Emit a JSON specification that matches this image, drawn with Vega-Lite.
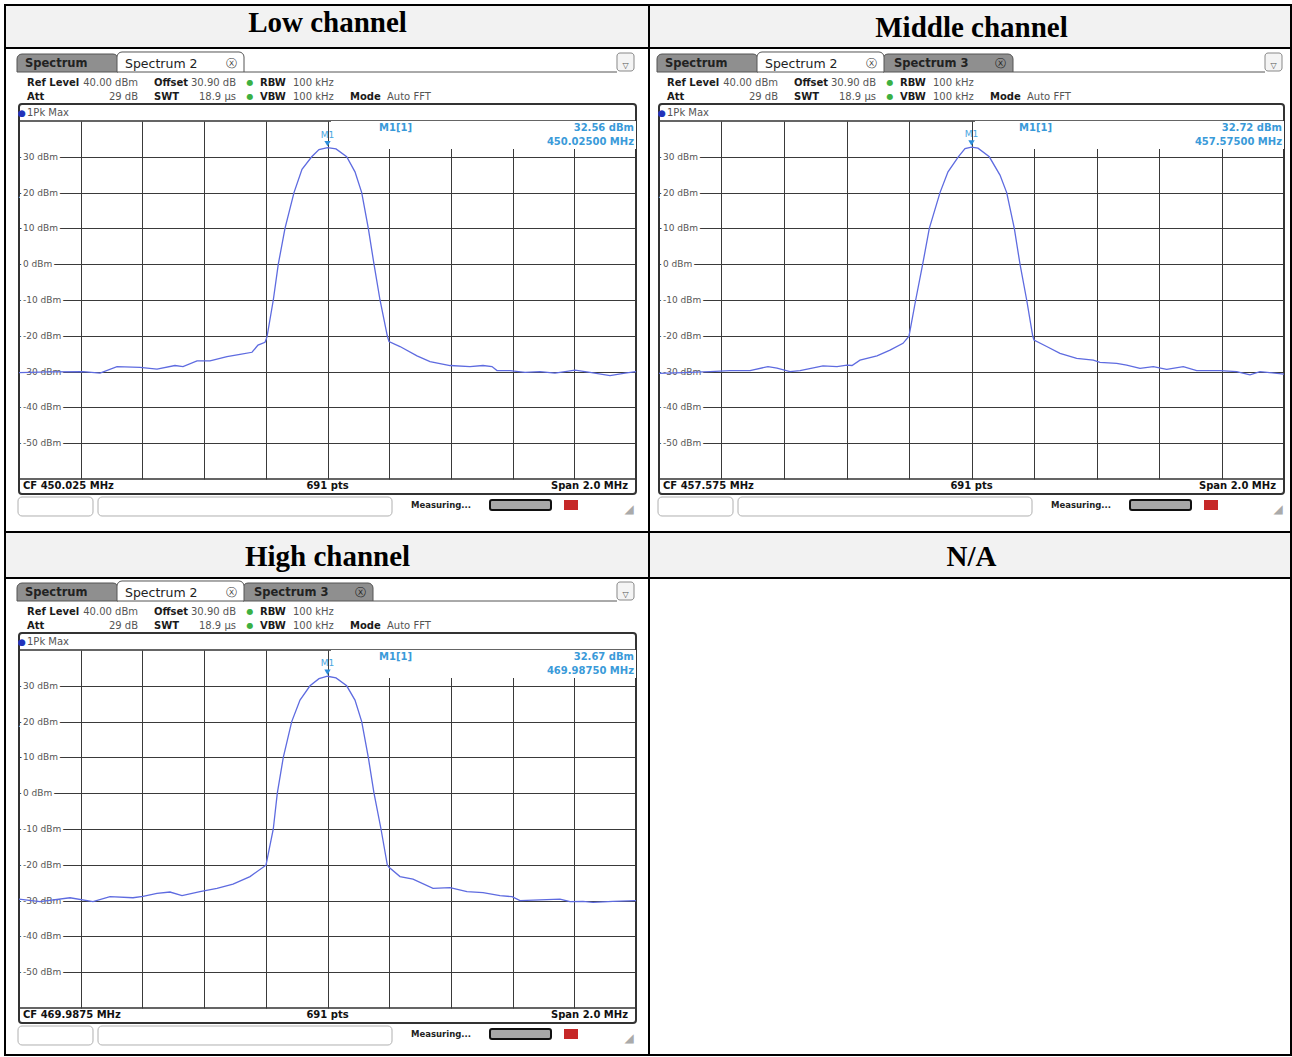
{
"$schema": "https://vega.github.io/schema/vega-lite/v6.json",
"background": "white",
"padding": {"left": 3, "top": 3, "right": 0, "bottom": 0},
"autosize": {"type": "pad"},
"columns": 2,
"spacing": {"row": 171, "column": 23},
"bounds": "flush",
"datasets": {
"one": [{}],
"yticks": [{"v":-50},{"v":-40},{"v":-30},{"v":-20},{"v":-10},{"v":0},{"v":10},{"v":20},{"v":30}],
"markers": [
{"channel": "Low", "freq": 450.025, "level": 32.56},
{"channel": "Middle", "freq": 457.575, "level": 32.72},
{"channel": "High", "freq": 469.9875, "level": 32.67}
],
"trace": [
{"channel":"Low","freq":449.025,"level":-30.3},{"channel":"Low","freq":449.1255,"level":-30.1},{"channel":"Low","freq":449.2325,"level":-30.0},{"channel":"Low","freq":449.2876,"level":-30.4},{"channel":"Low","freq":449.3427,"level":-28.6},{"channel":"Low","freq":449.4172,"level":-28.8},{"channel":"Low","freq":449.4723,"level":-29.3},{"channel":"Low","freq":449.5307,"level":-28.3},{"channel":"Low","freq":449.5566,"level":-28.6},{"channel":"Low","freq":449.602,"level":-27.0},{"channel":"Low","freq":449.6441,"level":-27.0},{"channel":"Low","freq":449.6992,"level":-25.8},{"channel":"Low","freq":449.7414,"level":-25.2},{"channel":"Low","freq":449.7803,"level":-24.6},{"channel":"Low","freq":449.7997,"level":-22.6},{"channel":"Low","freq":449.8224,"level":-21.8},{"channel":"Low","freq":449.8289,"level":-20.3},{"channel":"Low","freq":449.8493,"level":-10.0},{"channel":"Low","freq":449.8655,"level":0.0},{"channel":"Low","freq":449.8872,"level":10.0},{"channel":"Low","freq":449.9164,"level":20.0},{"channel":"Low","freq":449.9423,"level":26.5},{"channel":"Low","freq":449.9738,"level":30.0},{"channel":"Low","freq":449.9974,"level":32.0},{"channel":"Low","freq":450.025,"level":32.56},{"channel":"Low","freq":450.0526,"level":32.2},{"channel":"Low","freq":450.0872,"level":30.0},{"channel":"Low","freq":450.1141,"level":25.8},{"channel":"Low","freq":450.1359,"level":20.0},{"channel":"Low","freq":450.1573,"level":10.0},{"channel":"Low","freq":450.1757,"level":0.0},{"channel":"Low","freq":450.1952,"level":-10.0},{"channel":"Low","freq":450.2188,"level":-20.0},{"channel":"Low","freq":450.2244,"level":-21.6},{"channel":"Low","freq":450.26,"level":-23.0},{"channel":"Low","freq":450.3151,"level":-25.6},{"channel":"Low","freq":450.3573,"level":-27.2},{"channel":"Low","freq":450.4221,"level":-28.3},{"channel":"Low","freq":450.4869,"level":-28.6},{"channel":"Low","freq":450.5291,"level":-28.3},{"channel":"Low","freq":450.5582,"level":-28.6},{"channel":"Low","freq":450.5744,"level":-29.7},{"channel":"Low","freq":450.6166,"level":-29.7},{"channel":"Low","freq":450.6652,"level":-30.2},{"channel":"Low","freq":450.7138,"level":-30.0},{"channel":"Low","freq":450.7624,"level":-30.4},{"channel":"Low","freq":450.8273,"level":-29.6},{"channel":"Low","freq":450.8759,"level":-30.2},{"channel":"Low","freq":450.9407,"level":-31.1},{"channel":"Low","freq":450.9893,"level":-30.4},{"channel":"Low","freq":451.025,"level":-30.0},
{"channel":"Middle","freq":456.575,"level":-30.5},{"channel":"Middle","freq":456.6518,"level":-30.3},{"channel":"Middle","freq":456.7382,"level":-30.0},{"channel":"Middle","freq":456.8022,"level":-29.7},{"channel":"Middle","freq":456.8662,"level":-29.7},{"channel":"Middle","freq":456.9238,"level":-28.6},{"channel":"Middle","freq":456.9526,"level":-29.0},{"channel":"Middle","freq":456.9942,"level":-30.0},{"channel":"Middle","freq":457.0262,"level":-29.7},{"channel":"Middle","freq":457.0998,"level":-28.4},{"channel":"Middle","freq":457.1446,"level":-28.6},{"channel":"Middle","freq":457.1766,"level":-28.2},{"channel":"Middle","freq":457.1926,"level":-28.3},{"channel":"Middle","freq":457.2182,"level":-26.8},{"channel":"Middle","freq":457.2726,"level":-25.6},{"channel":"Middle","freq":457.3142,"level":-24.0},{"channel":"Middle","freq":457.3558,"level":-22.1},{"channel":"Middle","freq":457.375,"level":-20.1},{"channel":"Middle","freq":457.3964,"level":-10.0},{"channel":"Middle","freq":457.4188,"level":0.0},{"channel":"Middle","freq":457.44,"level":10.0},{"channel":"Middle","freq":457.4742,"level":20.0},{"channel":"Middle","freq":457.4998,"level":25.8},{"channel":"Middle","freq":457.5328,"level":30.0},{"channel":"Middle","freq":457.5542,"level":32.3},{"channel":"Middle","freq":457.575,"level":32.72},{"channel":"Middle","freq":457.5958,"level":32.4},{"channel":"Middle","freq":457.632,"level":30.0},{"channel":"Middle","freq":457.6662,"level":24.9},{"channel":"Middle","freq":457.6876,"level":20.0},{"channel":"Middle","freq":457.712,"level":10.0},{"channel":"Middle","freq":457.7302,"level":0.0},{"channel":"Middle","freq":457.7516,"level":-10.0},{"channel":"Middle","freq":457.7708,"level":-20.0},{"channel":"Middle","freq":457.775,"level":-21.2},{"channel":"Middle","freq":457.8156,"level":-23.0},{"channel":"Middle","freq":457.8582,"level":-24.9},{"channel":"Middle","freq":457.9116,"level":-26.3},{"channel":"Middle","freq":457.9648,"level":-26.8},{"channel":"Middle","freq":457.9862,"level":-27.4},{"channel":"Middle","freq":458.0396,"level":-27.7},{"channel":"Middle","freq":458.0716,"level":-28.2},{"channel":"Middle","freq":458.1142,"level":-29.1},{"channel":"Middle","freq":458.1568,"level":-28.6},{"channel":"Middle","freq":458.1996,"level":-29.4},{"channel":"Middle","freq":458.2528,"level":-28.6},{"channel":"Middle","freq":458.2956,"level":-29.7},{"channel":"Middle","freq":458.3702,"level":-29.7},{"channel":"Middle","freq":458.4236,"level":-30.0},{"channel":"Middle","freq":458.4662,"level":-30.9},{"channel":"Middle","freq":458.4982,"level":-30.0},{"channel":"Middle","freq":458.575,"level":-30.7},
{"channel":"High","freq":468.9875,"level":-29.6},{"channel":"High","freq":469.0556,"level":-30.3},{"channel":"High","freq":469.1528,"level":-29.2},{"channel":"High","freq":469.2274,"level":-30.3},{"channel":"High","freq":469.2825,"level":-28.9},{"channel":"High","freq":469.357,"level":-29.2},{"channel":"High","freq":469.3894,"level":-28.8},{"channel":"High","freq":469.4348,"level":-28.0},{"channel":"High","freq":469.477,"level":-27.6},{"channel":"High","freq":469.5159,"level":-28.6},{"channel":"High","freq":469.5742,"level":-27.5},{"channel":"High","freq":469.6293,"level":-26.6},{"channel":"High","freq":469.6812,"level":-25.4},{"channel":"High","freq":469.7363,"level":-23.3},{"channel":"High","freq":469.7881,"level":-20.1},{"channel":"High","freq":469.8118,"level":-10.0},{"channel":"High","freq":469.8248,"level":0.0},{"channel":"High","freq":469.8442,"level":10.0},{"channel":"High","freq":469.8715,"level":20.0},{"channel":"High","freq":469.8984,"level":26.0},{"channel":"High","freq":469.9308,"level":30.0},{"channel":"High","freq":469.9599,"level":32.0},{"channel":"High","freq":469.9875,"level":32.67},{"channel":"High","freq":470.0151,"level":32.2},{"channel":"High","freq":470.0497,"level":30.0},{"channel":"High","freq":470.0766,"level":26.0},{"channel":"High","freq":470.0984,"level":20.0},{"channel":"High","freq":470.1198,"level":10.0},{"channel":"High","freq":470.1382,"level":0.0},{"channel":"High","freq":470.1609,"level":-10.0},{"channel":"High","freq":470.1813,"level":-20.0},{"channel":"High","freq":470.1869,"level":-20.7},{"channel":"High","freq":470.2225,"level":-23.3},{"channel":"High","freq":470.2646,"level":-24.0},{"channel":"High","freq":470.3295,"level":-26.6},{"channel":"High","freq":470.3846,"level":-26.4},{"channel":"High","freq":470.4397,"level":-27.5},{"channel":"High","freq":470.4916,"level":-27.8},{"channel":"High","freq":470.5467,"level":-28.6},{"channel":"High","freq":470.5856,"level":-28.9},{"channel":"High","freq":470.6115,"level":-30.0},{"channel":"High","freq":470.6763,"level":-29.8},{"channel":"High","freq":470.7411,"level":-29.6},{"channel":"High","freq":470.7736,"level":-30.3},{"channel":"High","freq":470.8157,"level":-30.2},{"channel":"High","freq":470.8481,"level":-30.5},{"channel":"High","freq":470.9129,"level":-30.2},{"channel":"High","freq":470.9875,"level":-30.0}
]
},
"concat": [
{
"width": 617, "height": 358,
"layer": [
{"data":{"name":"one"},"mark":{"type":"rect","fill":"#f2f2f2","stroke":"#000000","strokeWidth":2},"encoding":{"x":{"datum":448.97962},"x2":{"datum":451.06714},"y":{"datum":72.402},"y2":{"datum":60.391}}},
{"data":{"name":"one"},"mark":{"type":"rect","fill":"#ffffff","fillOpacity":0,"stroke":"#000000","strokeWidth":2},"encoding":{"x":{"datum":448.97962},"x2":{"datum":451.06714},"y":{"datum":60.391},"y2":{"datum":-74.804}}},
{"data":{"name":"one"},"mark":{"type":"text","text":"Low channel","font":"Liberation Serif","fontSize":29,"fontWeight":"bold","align":"center","color":"#000000"},"encoding":{"x":{"datum":450.025},"y":{"datum":67.374}}},
{"data":{"name":"one"},"mark":{"type":"rect","fill":"#8f8f8f","stroke":"#555555","strokeWidth":1,"cornerRadiusTopLeft":5,"cornerRadiusTopRight":5},"encoding":{"x":{"datum":449.01852},"x2":{"datum":449.34591},"y":{"datum":58.715},"y2":{"datum":53.687}}},
{"data":{"name":"one"},"mark":{"type":"text","text":"Spectrum","fontWeight":"bold","fontSize":11.5,"color":"#222222"},"encoding":{"x":{"datum":449.04445},"y":{"datum":55.922}}},
{"data":{"name":"one"},"mark":{"type":"rect","fill":"#ffffff","stroke":"#555555","strokeWidth":1,"cornerRadiusTopLeft":5,"cornerRadiusTopRight":5},"encoding":{"x":{"datum":449.34267},"x2":{"datum":449.75434},"y":{"datum":59.274},"y2":{"datum":53.687}}},
{"data":{"name":"one"},"mark":{"type":"text","text":"Spectrum 2","fontSize":12.5,"color":"#222222"},"encoding":{"x":{"datum":449.3686},"y":{"datum":55.922}}},
{"data":{"name":"one"},"mark":{"type":"text","text":"ⓧ","fontSize":11,"align":"center","color":"#444444"},"encoding":{"x":{"datum":449.7122},"y":{"datum":55.922}}},
{"data":{"name":"one"},"mark":{"type":"rule","color":"#555555","strokeWidth":1},"encoding":{"x":{"datum":449.75434},"x2":{"datum":450.96341},"y":{"datum":53.687}}},
{"data":{"name":"one"},"mark":{"type":"rect","fill":"#f4f4f4","stroke":"#888888","strokeWidth":1,"cornerRadius":3},"encoding":{"x":{"datum":450.96341},"x2":{"datum":451.01852},"y":{"datum":58.994},"y2":{"datum":53.966}}},
{"data":{"name":"one"},"mark":{"type":"text","text":"▽","fontSize":8,"align":"center","color":"#555555"},"encoding":{"x":{"datum":450.99096},"y":{"datum":55.3}}},
{"data":{"name":"one"},"mark":{"type":"text","text":["Ref Level","Att"],"fontWeight":"bold","lineHeight":14,"color":"#1a1a1a"},"encoding":{"x":{"datum":449.05093},"y":{"datum":50.615}}},
{"data":{"name":"one"},"mark":{"type":"text","text":["40.00 dBm","29 dB"],"align":"right","lineHeight":14,"color":"#555555"},"encoding":{"x":{"datum":449.41074},"y":{"datum":50.615}}},
{"data":{"name":"one"},"mark":{"type":"text","text":["Offset","SWT"],"fontWeight":"bold","lineHeight":14,"color":"#1a1a1a"},"encoding":{"x":{"datum":449.4626},"y":{"datum":50.615}}},
{"data":{"name":"one"},"mark":{"type":"text","text":["30.90 dB","18.9 µs"],"align":"right","lineHeight":14,"color":"#555555"},"encoding":{"x":{"datum":449.7284},"y":{"datum":50.615}}},
{"data":{"name":"one"},"mark":{"type":"text","text":["●","●"],"align":"center","fontSize":8,"lineHeight":14,"color":"#3cb043"},"encoding":{"x":{"datum":449.77378},"y":{"datum":50.615}}},
{"data":{"name":"one"},"mark":{"type":"text","text":["RBW","VBW"],"fontWeight":"bold","lineHeight":14,"color":"#1a1a1a"},"encoding":{"x":{"datum":449.8062},"y":{"datum":50.615}}},
{"data":{"name":"one"},"mark":{"type":"text","text":["100 kHz","100 kHz"],"lineHeight":14,"color":"#555555"},"encoding":{"x":{"datum":449.91317},"y":{"datum":50.615}}},
{"data":{"name":"one"},"mark":{"type":"text","text":"Mode","fontWeight":"bold","color":"#1a1a1a"},"encoding":{"x":{"datum":450.09793},"y":{"datum":46.704}}},
{"data":{"name":"one"},"mark":{"type":"text","text":"Auto FFT","color":"#555555"},"encoding":{"x":{"datum":450.21787},"y":{"datum":46.704}}},
{"data":{"name":"one"},"mark":{"type":"rect","fill":"#ffffff","fillOpacity":0,"stroke":"#333333","strokeWidth":2,"cornerRadius":3},"encoding":{"x":{"datum":449.025},"x2":{"datum":451.025},"y":{"datum":44.749},"y2":{"datum":-64.19}}},
{"data":{"name":"one"},"mark":{"type":"text","text":"●","fontSize":9,"align":"center","color":"#2233bb"},"encoding":{"x":{"datum":449.03472},"y":{"datum":42.235}}},
{"data":{"name":"one"},"mark":{"type":"text","text":"1Pk Max","fontSize":10,"color":"#555555"},"encoding":{"x":{"datum":449.05093},"y":{"datum":42.235}}},
{"data":{"name":"yticks"},"transform":[{"calculate":"datum.v + ' dBm'","as":"lbl"}],"mark":{"type":"text","fontSize":9,"color":"#ffffff","stroke":"#ffffff","strokeWidth":5},"encoding":{"x":{"datum":449.03797},"y":{"field":"v","type":"quantitative"},"text":{"field":"lbl","type":"nominal"}}},
{"data":{"name":"yticks"},"transform":[{"calculate":"datum.v + ' dBm'","as":"lbl"}],"mark":{"type":"text","fontSize":9,"color":"#555555"},"encoding":{"x":{"datum":449.03797},"y":{"field":"v","type":"quantitative"},"text":{"field":"lbl","type":"nominal"}}},
{"data":{"name":"one"},"mark":{"type":"rect","fill":"#ffffff"},"encoding":{"x":{"datum":450.03635},"x2":{"datum":451.025},"y":{"datum":40},"y2":{"datum":32.179}}},
{"data":{"name":"trace"},"transform":[{"filter":"datum.channel === 'Low'"}],"mark":{"type":"line","color":"#5e6be0","strokeWidth":1.3},"encoding":{"x":{"field":"freq","type":"quantitative","scale":{"domain":[449.025,451.025],"nice":false,"zero":false},"axis":{"title":null,"values":[449.025,449.225,449.425,449.625,449.825,450.025,450.225,450.425,450.625,450.825,451.025],"labels":false,"ticks":false,"domain":false,"grid":true,"gridColor":"#3a3a3a","gridWidth":1}},"y":{"field":"level","type":"quantitative","scale":{"domain":[-60,40],"nice":false,"zero":false},"axis":{"title":null,"values":[-50,-40,-30,-20,-10,0,10,20,30],"labels":false,"ticks":false,"domain":false,"grid":true,"gridColor":"#3a3a3a","gridWidth":1}}}},
{"data":{"name":"markers"},"transform":[{"filter":"datum.channel === 'Low'"}],"mark":{"type":"point","shape":"triangle-down","filled":true,"size":40,"color":"#2f8fdb","opacity":1,"yOffset":-4},"encoding":{"x":{"field":"freq","type":"quantitative"},"y":{"field":"level","type":"quantitative"}}},
{"data":{"name":"markers"},"transform":[{"filter":"datum.channel === 'Low'"}],"mark":{"type":"text","text":"M1","fontSize":9,"align":"center","color":"#4aa6e0","yOffset":-13},"encoding":{"x":{"field":"freq","type":"quantitative"},"y":{"field":"level","type":"quantitative"}}},
{"data":{"name":"one"},"mark":{"type":"text","text":"M1[1]","fontWeight":"bold","fontSize":10,"color":"#3a9ad9"},"encoding":{"x":{"datum":450.19194},"y":{"datum":38.045}}},
{"data":{"name":"markers"},"transform":[{"filter":"datum.channel === 'Low'"},{"calculate":"format(datum.level, '.2f') + ' dBm'","as":"lbl"}],"mark":{"type":"text","fontWeight":"bold","fontSize":10,"align":"right","color":"#3a9ad9"},"encoding":{"x":{"datum":451.01852},"y":{"datum":38.045},"text":{"field":"lbl","type":"nominal"}}},
{"data":{"name":"markers"},"transform":[{"filter":"datum.channel === 'Low'"},{"calculate":"format(datum.freq, '.5f') + ' MHz'","as":"lbl"}],"mark":{"type":"text","fontWeight":"bold","fontSize":10,"align":"right","color":"#3a9ad9"},"encoding":{"x":{"datum":451.01852},"y":{"datum":34.134},"text":{"field":"lbl","type":"nominal"}}},
{"data":{"name":"one"},"mark":{"type":"text","text":"CF 450.025 MHz","fontWeight":"bold","color":"#111111"},"encoding":{"x":{"datum":449.03797},"y":{"datum":-61.955}}},
{"data":{"name":"one"},"mark":{"type":"text","text":"691 pts","fontWeight":"bold","align":"center","color":"#111111"},"encoding":{"x":{"datum":450.025},"y":{"datum":-61.955}}},
{"data":{"name":"one"},"mark":{"type":"text","text":"Span 2.0 MHz","fontWeight":"bold","align":"right","color":"#111111"},"encoding":{"x":{"datum":450.99907},"y":{"datum":-61.955}}},
{"data":{"name":"one"},"mark":{"type":"rect","fill":"#ffffff","stroke":"#b0b0b0","strokeWidth":1,"cornerRadius":4},"encoding":{"x":{"datum":449.02176},"x2":{"datum":449.26487},"y":{"datum":-65.03},"y2":{"datum":-70.335}}},
{"data":{"name":"one"},"mark":{"type":"rect","fill":"#ffffff","stroke":"#b0b0b0","strokeWidth":1,"cornerRadius":4},"encoding":{"x":{"datum":449.28108},"x2":{"datum":450.23408},"y":{"datum":-65.03},"y2":{"datum":-70.335}}},
{"data":{"name":"one"},"mark":{"type":"text","text":"Measuring...","fontWeight":"bold","fontSize":8.5,"color":"#222222"},"encoding":{"x":{"datum":450.29566},"y":{"datum":-67.263}}},
{"data":{"name":"one"},"mark":{"type":"rect","fill":"#a8a8a8","stroke":"#111111","strokeWidth":2,"cornerRadius":2},"encoding":{"x":{"datum":450.55174},"x2":{"datum":450.74947},"y":{"datum":-65.866},"y2":{"datum":-68.659}}},
{"data":{"name":"one"},"mark":{"type":"rect","fill":"#c62828"},"encoding":{"x":{"datum":450.79161},"x2":{"datum":450.83699},"y":{"datum":-65.866},"y2":{"datum":-68.659}}},
{"data":{"name":"one"},"mark":{"type":"text","text":"◢","fontSize":12,"align":"center","color":"#aaaaaa"},"encoding":{"x":{"datum":451.00231},"y":{"datum":-68.4}}}
]
},
{
"width": 625, "height": 358,
"layer": [
{"data":{"name":"one"},"mark":{"type":"rect","fill":"#f2f2f2","stroke":"#000000","strokeWidth":2},"encoding":{"x":{"datum":456.543},"x2":{"datum":458.5974},"y":{"datum":72.402},"y2":{"datum":60.391}}},
{"data":{"name":"one"},"mark":{"type":"rect","fill":"#ffffff","fillOpacity":0,"stroke":"#000000","strokeWidth":2},"encoding":{"x":{"datum":456.543},"x2":{"datum":458.5974},"y":{"datum":60.391},"y2":{"datum":-74.804}}},
{"data":{"name":"one"},"mark":{"type":"text","text":"Middle channel","font":"Liberation Serif","fontSize":29,"fontWeight":"bold","align":"center","color":"#000000"},"encoding":{"x":{"datum":457.575},"y":{"datum":65.978}}},
{"data":{"name":"one"},"mark":{"type":"rect","fill":"#8f8f8f","stroke":"#555555","strokeWidth":1,"cornerRadiusTopLeft":5,"cornerRadiusTopRight":5},"encoding":{"x":{"datum":456.5686},"x2":{"datum":456.8918},"y":{"datum":58.715},"y2":{"datum":53.687}}},
{"data":{"name":"one"},"mark":{"type":"text","text":"Spectrum","fontWeight":"bold","fontSize":11.5,"color":"#222222"},"encoding":{"x":{"datum":456.5942},"y":{"datum":55.922}}},
{"data":{"name":"one"},"mark":{"type":"rect","fill":"#8f8f8f","stroke":"#555555","strokeWidth":1,"cornerRadiusTopLeft":5,"cornerRadiusTopRight":5},"encoding":{"x":{"datum":457.2918},"x2":{"datum":457.7078},"y":{"datum":58.715},"y2":{"datum":53.687}}},
{"data":{"name":"one"},"mark":{"type":"text","text":"Spectrum 3","fontWeight":"bold","fontSize":11.5,"color":"#222222"},"encoding":{"x":{"datum":457.327},"y":{"datum":55.922}}},
{"data":{"name":"one"},"mark":{"type":"text","text":"ⓧ","fontSize":11,"align":"center","color":"#222222"},"encoding":{"x":{"datum":457.6662},"y":{"datum":55.922}}},
{"data":{"name":"one"},"mark":{"type":"rect","fill":"#ffffff","stroke":"#555555","strokeWidth":1,"cornerRadiusTopLeft":5,"cornerRadiusTopRight":5},"encoding":{"x":{"datum":456.8886},"x2":{"datum":457.295},"y":{"datum":59.274},"y2":{"datum":53.687}}},
{"data":{"name":"one"},"mark":{"type":"text","text":"Spectrum 2","fontSize":12.5,"color":"#222222"},"encoding":{"x":{"datum":456.9142},"y":{"datum":55.922}}},
{"data":{"name":"one"},"mark":{"type":"text","text":"ⓧ","fontSize":11,"align":"center","color":"#444444"},"encoding":{"x":{"datum":457.2534},"y":{"datum":55.922}}},
{"data":{"name":"one"},"mark":{"type":"rule","color":"#555555","strokeWidth":1},"encoding":{"x":{"datum":457.7078},"x2":{"datum":458.5142},"y":{"datum":53.687}}},
{"data":{"name":"one"},"mark":{"type":"rect","fill":"#f4f4f4","stroke":"#888888","strokeWidth":1,"cornerRadius":3},"encoding":{"x":{"datum":458.5142},"x2":{"datum":458.5686},"y":{"datum":58.994},"y2":{"datum":53.966}}},
{"data":{"name":"one"},"mark":{"type":"text","text":"▽","fontSize":8,"align":"center","color":"#555555"},"encoding":{"x":{"datum":458.5414},"y":{"datum":55.3}}},
{"data":{"name":"one"},"mark":{"type":"text","text":["Ref Level","Att"],"fontWeight":"bold","lineHeight":14,"color":"#1a1a1a"},"encoding":{"x":{"datum":456.6006},"y":{"datum":50.615}}},
{"data":{"name":"one"},"mark":{"type":"text","text":["40.00 dBm","29 dB"],"align":"right","lineHeight":14,"color":"#555555"},"encoding":{"x":{"datum":456.9558},"y":{"datum":50.615}}},
{"data":{"name":"one"},"mark":{"type":"text","text":["Offset","SWT"],"fontWeight":"bold","lineHeight":14,"color":"#1a1a1a"},"encoding":{"x":{"datum":457.007},"y":{"datum":50.615}}},
{"data":{"name":"one"},"mark":{"type":"text","text":["30.90 dB","18.9 µs"],"align":"right","lineHeight":14,"color":"#555555"},"encoding":{"x":{"datum":457.2694},"y":{"datum":50.615}}},
{"data":{"name":"one"},"mark":{"type":"text","text":["●","●"],"align":"center","fontSize":8,"lineHeight":14,"color":"#3cb043"},"encoding":{"x":{"datum":457.3142},"y":{"datum":50.615}}},
{"data":{"name":"one"},"mark":{"type":"text","text":["RBW","VBW"],"fontWeight":"bold","lineHeight":14,"color":"#1a1a1a"},"encoding":{"x":{"datum":457.3462},"y":{"datum":50.615}}},
{"data":{"name":"one"},"mark":{"type":"text","text":["100 kHz","100 kHz"],"lineHeight":14,"color":"#555555"},"encoding":{"x":{"datum":457.4518},"y":{"datum":50.615}}},
{"data":{"name":"one"},"mark":{"type":"text","text":"Mode","fontWeight":"bold","color":"#1a1a1a"},"encoding":{"x":{"datum":457.6342},"y":{"datum":46.704}}},
{"data":{"name":"one"},"mark":{"type":"text","text":"Auto FFT","color":"#555555"},"encoding":{"x":{"datum":457.7526},"y":{"datum":46.704}}},
{"data":{"name":"one"},"mark":{"type":"rect","fill":"#ffffff","fillOpacity":0,"stroke":"#333333","strokeWidth":2,"cornerRadius":3},"encoding":{"x":{"datum":456.575},"x2":{"datum":458.575},"y":{"datum":44.749},"y2":{"datum":-64.19}}},
{"data":{"name":"one"},"mark":{"type":"text","text":"●","fontSize":9,"align":"center","color":"#2233bb"},"encoding":{"x":{"datum":456.5846},"y":{"datum":42.235}}},
{"data":{"name":"one"},"mark":{"type":"text","text":"1Pk Max","fontSize":10,"color":"#555555"},"encoding":{"x":{"datum":456.6006},"y":{"datum":42.235}}},
{"data":{"name":"yticks"},"transform":[{"calculate":"datum.v + ' dBm'","as":"lbl"}],"mark":{"type":"text","fontSize":9,"color":"#ffffff","stroke":"#ffffff","strokeWidth":5},"encoding":{"x":{"datum":456.5878},"y":{"field":"v","type":"quantitative"},"text":{"field":"lbl","type":"nominal"}}},
{"data":{"name":"yticks"},"transform":[{"calculate":"datum.v + ' dBm'","as":"lbl"}],"mark":{"type":"text","fontSize":9,"color":"#555555"},"encoding":{"x":{"datum":456.5878},"y":{"field":"v","type":"quantitative"},"text":{"field":"lbl","type":"nominal"}}},
{"data":{"name":"one"},"mark":{"type":"rect","fill":"#ffffff"},"encoding":{"x":{"datum":457.5862},"x2":{"datum":458.575},"y":{"datum":40},"y2":{"datum":32.179}}},
{"data":{"name":"trace"},"transform":[{"filter":"datum.channel === 'Middle'"}],"mark":{"type":"line","color":"#5e6be0","strokeWidth":1.3},"encoding":{"x":{"field":"freq","type":"quantitative","scale":{"domain":[456.575,458.575],"nice":false,"zero":false},"axis":{"title":null,"values":[456.575,456.775,456.975,457.175,457.375,457.575,457.775,457.975,458.175,458.375,458.575],"labels":false,"ticks":false,"domain":false,"grid":true,"gridColor":"#3a3a3a","gridWidth":1}},"y":{"field":"level","type":"quantitative","scale":{"domain":[-60,40],"nice":false,"zero":false},"axis":{"title":null,"values":[-50,-40,-30,-20,-10,0,10,20,30],"labels":false,"ticks":false,"domain":false,"grid":true,"gridColor":"#3a3a3a","gridWidth":1}}}},
{"data":{"name":"markers"},"transform":[{"filter":"datum.channel === 'Middle'"}],"mark":{"type":"point","shape":"triangle-down","filled":true,"size":40,"color":"#2f8fdb","opacity":1,"yOffset":-4},"encoding":{"x":{"field":"freq","type":"quantitative"},"y":{"field":"level","type":"quantitative"}}},
{"data":{"name":"markers"},"transform":[{"filter":"datum.channel === 'Middle'"}],"mark":{"type":"text","text":"M1","fontSize":9,"align":"center","color":"#4aa6e0","yOffset":-13},"encoding":{"x":{"field":"freq","type":"quantitative"},"y":{"field":"level","type":"quantitative"}}},
{"data":{"name":"one"},"mark":{"type":"text","text":"M1[1]","fontWeight":"bold","fontSize":10,"color":"#3a9ad9"},"encoding":{"x":{"datum":457.727},"y":{"datum":38.045}}},
{"data":{"name":"markers"},"transform":[{"filter":"datum.channel === 'Middle'"},{"calculate":"format(datum.level, '.2f') + ' dBm'","as":"lbl"}],"mark":{"type":"text","fontWeight":"bold","fontSize":10,"align":"right","color":"#3a9ad9"},"encoding":{"x":{"datum":458.5686},"y":{"datum":38.045},"text":{"field":"lbl","type":"nominal"}}},
{"data":{"name":"markers"},"transform":[{"filter":"datum.channel === 'Middle'"},{"calculate":"format(datum.freq, '.5f') + ' MHz'","as":"lbl"}],"mark":{"type":"text","fontWeight":"bold","fontSize":10,"align":"right","color":"#3a9ad9"},"encoding":{"x":{"datum":458.5686},"y":{"datum":34.134},"text":{"field":"lbl","type":"nominal"}}},
{"data":{"name":"one"},"mark":{"type":"text","text":"CF 457.575 MHz","fontWeight":"bold","color":"#111111"},"encoding":{"x":{"datum":456.5878},"y":{"datum":-61.955}}},
{"data":{"name":"one"},"mark":{"type":"text","text":"691 pts","fontWeight":"bold","align":"center","color":"#111111"},"encoding":{"x":{"datum":457.575},"y":{"datum":-61.955}}},
{"data":{"name":"one"},"mark":{"type":"text","text":"Span 2.0 MHz","fontWeight":"bold","align":"right","color":"#111111"},"encoding":{"x":{"datum":458.5494},"y":{"datum":-61.955}}},
{"data":{"name":"one"},"mark":{"type":"rect","fill":"#ffffff","stroke":"#b0b0b0","strokeWidth":1,"cornerRadius":4},"encoding":{"x":{"datum":456.5718},"x2":{"datum":456.8118},"y":{"datum":-65.03},"y2":{"datum":-70.335}}},
{"data":{"name":"one"},"mark":{"type":"rect","fill":"#ffffff","stroke":"#b0b0b0","strokeWidth":1,"cornerRadius":4},"encoding":{"x":{"datum":456.8278},"x2":{"datum":457.7686},"y":{"datum":-65.03},"y2":{"datum":-70.335}}},
{"data":{"name":"one"},"mark":{"type":"text","text":"Measuring...","fontWeight":"bold","fontSize":8.5,"color":"#222222"},"encoding":{"x":{"datum":457.8294},"y":{"datum":-67.263}}},
{"data":{"name":"one"},"mark":{"type":"rect","fill":"#a8a8a8","stroke":"#111111","strokeWidth":2,"cornerRadius":2},"encoding":{"x":{"datum":458.0822},"x2":{"datum":458.2774},"y":{"datum":-65.866},"y2":{"datum":-68.659}}},
{"data":{"name":"one"},"mark":{"type":"rect","fill":"#c62828"},"encoding":{"x":{"datum":458.319},"x2":{"datum":458.3638},"y":{"datum":-65.866},"y2":{"datum":-68.659}}},
{"data":{"name":"one"},"mark":{"type":"text","text":"◢","fontSize":12,"align":"center","color":"#aaaaaa"},"encoding":{"x":{"datum":458.5558},"y":{"datum":-68.4}}}
]
},
{
"width": 617, "height": 358,
"layer": [
{"data":{"name":"one"},"mark":{"type":"rect","fill":"#f2f2f2","stroke":"#000000","strokeWidth":2},"encoding":{"x":{"datum":468.94212},"x2":{"datum":471.02964},"y":{"datum":72.961},"y2":{"datum":60.112}}},
{"data":{"name":"one"},"mark":{"type":"rect","fill":"#ffffff","fillOpacity":0,"stroke":"#000000","strokeWidth":2},"encoding":{"x":{"datum":468.94212},"x2":{"datum":471.02964},"y":{"datum":60.112},"y2":{"datum":-73.128}}},
{"data":{"name":"one"},"mark":{"type":"text","text":"High channel","font":"Liberation Serif","fontSize":29,"fontWeight":"bold","align":"center","color":"#000000"},"encoding":{"x":{"datum":469.9875},"y":{"datum":65.978}}},
{"data":{"name":"one"},"mark":{"type":"rect","fill":"#8f8f8f","stroke":"#555555","strokeWidth":1,"cornerRadiusTopLeft":5,"cornerRadiusTopRight":5},"encoding":{"x":{"datum":468.98102},"x2":{"datum":469.30841},"y":{"datum":58.715},"y2":{"datum":53.687}}},
{"data":{"name":"one"},"mark":{"type":"text","text":"Spectrum","fontWeight":"bold","fontSize":11.5,"color":"#222222"},"encoding":{"x":{"datum":469.00695},"y":{"datum":55.922}}},
{"data":{"name":"one"},"mark":{"type":"rect","fill":"#8f8f8f","stroke":"#555555","strokeWidth":1,"cornerRadiusTopLeft":5,"cornerRadiusTopRight":5},"encoding":{"x":{"datum":469.71359},"x2":{"datum":470.13499},"y":{"datum":58.715},"y2":{"datum":53.687}}},
{"data":{"name":"one"},"mark":{"type":"text","text":"Spectrum 3","fontWeight":"bold","fontSize":11.5,"color":"#222222"},"encoding":{"x":{"datum":469.74925},"y":{"datum":55.922}}},
{"data":{"name":"one"},"mark":{"type":"text","text":"ⓧ","fontSize":11,"align":"center","color":"#222222"},"encoding":{"x":{"datum":470.09285},"y":{"datum":55.922}}},
{"data":{"name":"one"},"mark":{"type":"rect","fill":"#ffffff","stroke":"#555555","strokeWidth":1,"cornerRadiusTopLeft":5,"cornerRadiusTopRight":5},"encoding":{"x":{"datum":469.30517},"x2":{"datum":469.71684},"y":{"datum":59.274},"y2":{"datum":53.687}}},
{"data":{"name":"one"},"mark":{"type":"text","text":"Spectrum 2","fontSize":12.5,"color":"#222222"},"encoding":{"x":{"datum":469.3311},"y":{"datum":55.922}}},
{"data":{"name":"one"},"mark":{"type":"text","text":"ⓧ","fontSize":11,"align":"center","color":"#444444"},"encoding":{"x":{"datum":469.6747},"y":{"datum":55.922}}},
{"data":{"name":"one"},"mark":{"type":"rule","color":"#555555","strokeWidth":1},"encoding":{"x":{"datum":470.13499},"x2":{"datum":470.92591},"y":{"datum":53.687}}},
{"data":{"name":"one"},"mark":{"type":"rect","fill":"#f4f4f4","stroke":"#888888","strokeWidth":1,"cornerRadius":3},"encoding":{"x":{"datum":470.92591},"x2":{"datum":470.98102},"y":{"datum":58.994},"y2":{"datum":53.966}}},
{"data":{"name":"one"},"mark":{"type":"text","text":"▽","fontSize":8,"align":"center","color":"#555555"},"encoding":{"x":{"datum":470.95346},"y":{"datum":55.3}}},
{"data":{"name":"one"},"mark":{"type":"text","text":["Ref Level","Att"],"fontWeight":"bold","lineHeight":14,"color":"#1a1a1a"},"encoding":{"x":{"datum":469.01343},"y":{"datum":50.615}}},
{"data":{"name":"one"},"mark":{"type":"text","text":["40.00 dBm","29 dB"],"align":"right","lineHeight":14,"color":"#555555"},"encoding":{"x":{"datum":469.37324},"y":{"datum":50.615}}},
{"data":{"name":"one"},"mark":{"type":"text","text":["Offset","SWT"],"fontWeight":"bold","lineHeight":14,"color":"#1a1a1a"},"encoding":{"x":{"datum":469.4251},"y":{"datum":50.615}}},
{"data":{"name":"one"},"mark":{"type":"text","text":["30.90 dB","18.9 µs"],"align":"right","lineHeight":14,"color":"#555555"},"encoding":{"x":{"datum":469.6909},"y":{"datum":50.615}}},
{"data":{"name":"one"},"mark":{"type":"text","text":["●","●"],"align":"center","fontSize":8,"lineHeight":14,"color":"#3cb043"},"encoding":{"x":{"datum":469.73628},"y":{"datum":50.615}}},
{"data":{"name":"one"},"mark":{"type":"text","text":["RBW","VBW"],"fontWeight":"bold","lineHeight":14,"color":"#1a1a1a"},"encoding":{"x":{"datum":469.7687},"y":{"datum":50.615}}},
{"data":{"name":"one"},"mark":{"type":"text","text":["100 kHz","100 kHz"],"lineHeight":14,"color":"#555555"},"encoding":{"x":{"datum":469.87567},"y":{"datum":50.615}}},
{"data":{"name":"one"},"mark":{"type":"text","text":"Mode","fontWeight":"bold","color":"#1a1a1a"},"encoding":{"x":{"datum":470.06043},"y":{"datum":46.704}}},
{"data":{"name":"one"},"mark":{"type":"text","text":"Auto FFT","color":"#555555"},"encoding":{"x":{"datum":470.18037},"y":{"datum":46.704}}},
{"data":{"name":"one"},"mark":{"type":"rect","fill":"#ffffff","fillOpacity":0,"stroke":"#333333","strokeWidth":2,"cornerRadius":3},"encoding":{"x":{"datum":468.9875},"x2":{"datum":470.9875},"y":{"datum":44.749},"y2":{"datum":-64.19}}},
{"data":{"name":"one"},"mark":{"type":"text","text":"●","fontSize":9,"align":"center","color":"#2233bb"},"encoding":{"x":{"datum":468.99722},"y":{"datum":42.235}}},
{"data":{"name":"one"},"mark":{"type":"text","text":"1Pk Max","fontSize":10,"color":"#555555"},"encoding":{"x":{"datum":469.01343},"y":{"datum":42.235}}},
{"data":{"name":"yticks"},"transform":[{"calculate":"datum.v + ' dBm'","as":"lbl"}],"mark":{"type":"text","fontSize":9,"color":"#ffffff","stroke":"#ffffff","strokeWidth":5},"encoding":{"x":{"datum":469.00047},"y":{"field":"v","type":"quantitative"},"text":{"field":"lbl","type":"nominal"}}},
{"data":{"name":"yticks"},"transform":[{"calculate":"datum.v + ' dBm'","as":"lbl"}],"mark":{"type":"text","fontSize":9,"color":"#555555"},"encoding":{"x":{"datum":469.00047},"y":{"field":"v","type":"quantitative"},"text":{"field":"lbl","type":"nominal"}}},
{"data":{"name":"one"},"mark":{"type":"rect","fill":"#ffffff"},"encoding":{"x":{"datum":469.99885},"x2":{"datum":470.9875},"y":{"datum":40},"y2":{"datum":32.179}}},
{"data":{"name":"trace"},"transform":[{"filter":"datum.channel === 'High'"}],"mark":{"type":"line","color":"#5e6be0","strokeWidth":1.3},"encoding":{"x":{"field":"freq","type":"quantitative","scale":{"domain":[468.9875,470.9875],"nice":false,"zero":false},"axis":{"title":null,"values":[468.9875,469.1875,469.3875,469.5875,469.7875,469.9875,470.1875,470.3875,470.5875,470.7875,470.9875],"labels":false,"ticks":false,"domain":false,"grid":true,"gridColor":"#3a3a3a","gridWidth":1}},"y":{"field":"level","type":"quantitative","scale":{"domain":[-60,40],"nice":false,"zero":false},"axis":{"title":null,"values":[-50,-40,-30,-20,-10,0,10,20,30],"labels":false,"ticks":false,"domain":false,"grid":true,"gridColor":"#3a3a3a","gridWidth":1}}}},
{"data":{"name":"markers"},"transform":[{"filter":"datum.channel === 'High'"}],"mark":{"type":"point","shape":"triangle-down","filled":true,"size":40,"color":"#2f8fdb","opacity":1,"yOffset":-4},"encoding":{"x":{"field":"freq","type":"quantitative"},"y":{"field":"level","type":"quantitative"}}},
{"data":{"name":"markers"},"transform":[{"filter":"datum.channel === 'High'"}],"mark":{"type":"text","text":"M1","fontSize":9,"align":"center","color":"#4aa6e0","yOffset":-13},"encoding":{"x":{"field":"freq","type":"quantitative"},"y":{"field":"level","type":"quantitative"}}},
{"data":{"name":"one"},"mark":{"type":"text","text":"M1[1]","fontWeight":"bold","fontSize":10,"color":"#3a9ad9"},"encoding":{"x":{"datum":470.15444},"y":{"datum":38.045}}},
{"data":{"name":"markers"},"transform":[{"filter":"datum.channel === 'High'"},{"calculate":"format(datum.level, '.2f') + ' dBm'","as":"lbl"}],"mark":{"type":"text","fontWeight":"bold","fontSize":10,"align":"right","color":"#3a9ad9"},"encoding":{"x":{"datum":470.98102},"y":{"datum":38.045},"text":{"field":"lbl","type":"nominal"}}},
{"data":{"name":"markers"},"transform":[{"filter":"datum.channel === 'High'"},{"calculate":"format(datum.freq, '.5f') + ' MHz'","as":"lbl"}],"mark":{"type":"text","fontWeight":"bold","fontSize":10,"align":"right","color":"#3a9ad9"},"encoding":{"x":{"datum":470.98102},"y":{"datum":34.134},"text":{"field":"lbl","type":"nominal"}}},
{"data":{"name":"one"},"mark":{"type":"text","text":"CF 469.9875 MHz","fontWeight":"bold","color":"#111111"},"encoding":{"x":{"datum":469.00047},"y":{"datum":-61.955}}},
{"data":{"name":"one"},"mark":{"type":"text","text":"691 pts","fontWeight":"bold","align":"center","color":"#111111"},"encoding":{"x":{"datum":469.9875},"y":{"datum":-61.955}}},
{"data":{"name":"one"},"mark":{"type":"text","text":"Span 2.0 MHz","fontWeight":"bold","align":"right","color":"#111111"},"encoding":{"x":{"datum":470.96157},"y":{"datum":-61.955}}},
{"data":{"name":"one"},"mark":{"type":"rect","fill":"#ffffff","stroke":"#b0b0b0","strokeWidth":1,"cornerRadius":4},"encoding":{"x":{"datum":468.98426},"x2":{"datum":469.22737},"y":{"datum":-65.03},"y2":{"datum":-70.335}}},
{"data":{"name":"one"},"mark":{"type":"rect","fill":"#ffffff","stroke":"#b0b0b0","strokeWidth":1,"cornerRadius":4},"encoding":{"x":{"datum":469.24358},"x2":{"datum":470.19658},"y":{"datum":-65.03},"y2":{"datum":-70.335}}},
{"data":{"name":"one"},"mark":{"type":"text","text":"Measuring...","fontWeight":"bold","fontSize":8.5,"color":"#222222"},"encoding":{"x":{"datum":470.25816},"y":{"datum":-67.263}}},
{"data":{"name":"one"},"mark":{"type":"rect","fill":"#a8a8a8","stroke":"#111111","strokeWidth":2,"cornerRadius":2},"encoding":{"x":{"datum":470.51424},"x2":{"datum":470.71197},"y":{"datum":-65.866},"y2":{"datum":-68.659}}},
{"data":{"name":"one"},"mark":{"type":"rect","fill":"#c62828"},"encoding":{"x":{"datum":470.75411},"x2":{"datum":470.79949},"y":{"datum":-65.866},"y2":{"datum":-68.659}}},
{"data":{"name":"one"},"mark":{"type":"text","text":"◢","fontSize":12,"align":"center","color":"#aaaaaa"},"encoding":{"x":{"datum":470.96481},"y":{"datum":-68.4}}}
]
},
{
"width": 625, "height": 358,
"view": {"stroke": null},
"layer": [
{"data":{"name":"one"},"mark":{"type":"rect","fill":"#f2f2f2","stroke":"#000000","strokeWidth":2},"encoding":{"x":{"datum":-1.032,"scale":{"domain":[-1,1]},"axis":null},"x2":{"datum":1.0224},"y":{"datum":72.961,"scale":{"domain":[-60,40]},"axis":null},"y2":{"datum":60.112}}},
{"data":{"name":"one"},"mark":{"type":"rect","fill":"#ffffff","fillOpacity":0,"stroke":"#000000","strokeWidth":2},"encoding":{"x":{"datum":-1.032,"axis":null},"x2":{"datum":1.0224},"y":{"datum":60.112,"axis":null},"y2":{"datum":-73.128}}},
{"data":{"name":"one"},"mark":{"type":"text","text":"N/A","font":"Liberation Serif","fontSize":29,"fontWeight":"bold","align":"center","color":"#000000"},"encoding":{"x":{"datum":0,"axis":null},"y":{"datum":65.978,"axis":null}}}
]
}
],
"config": {
"view": {"stroke": "#333333", "strokeWidth": 1.5},
"text": {"font": "DejaVu Sans", "fontSize": 10, "align": "left", "baseline": "middle", "color": "#222222"}
}
}
